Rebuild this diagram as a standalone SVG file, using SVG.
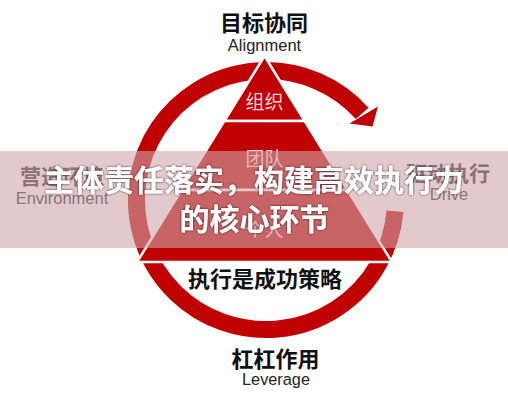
<svg xmlns="http://www.w3.org/2000/svg" width="508" height="400" viewBox="0 0 508 400">
  <defs>
    <style>
      .cjk { font-family: "Noto Sans CJK SC", "Noto Sans", sans-serif; }
      .lat { font-family: "Liberation Sans", Arial, sans-serif; }
      .title { font-weight: 700; fill: #111111; font-size: 22px; text-anchor: middle; }
      .sub { fill: #222222; text-anchor: middle; }
      .side { font-weight: 700; fill: #262626; font-size: 21px; text-anchor: middle; }
      .sideen { fill: #262626; font-size: 16.5px; text-anchor: middle; }
      .layer { fill: #c00000; stroke: #ffffff; stroke-width: 2.5; stroke-linejoin: miter; }
      .ltext { fill: #f7d6d6; font-size: 19px; text-anchor: middle; }
      .main { font-weight: 700; fill: #ffffff; font-size: 30px; text-anchor: middle; filter: url(#halo); }
    </style>
    <filter id="halo" x="-10%" y="-40%" width="120%" height="180%">
      <feDropShadow dx="0" dy="0" stdDeviation="1.2" flood-color="#1a0a0a" flood-opacity="0.85"/>
    </filter>
  </defs>

  <rect width="508" height="400" fill="#ffffff"/>

  <g id="connectors">
    <g id="cycle-arrow">
      <path d="M395,211.3 A129.5,129.5 0 1 1 362.2,113.4" fill="none" stroke="#c00000" stroke-width="17"/>
      <polygon points="378,106.5 349.5,123.5 372.5,126.5" fill="#c00000"/>
    </g>
  </g>

  <g id="pyramid">
    <g id="layer-organization">
      <polygon class="layer" points="264.5,56 224.3,121 304.7,121"/>
      <text class="cjk ltext" x="264.5" y="109">组织</text>
    </g>
    <g id="layer-team">
      <polygon class="layer" points="224.3,121 304.7,121 347.4,190 181.6,190"/>
      <text class="cjk ltext" x="264.5" y="166" font-size="18">团队</text>
    </g>
    <g id="layer-individual">
      <polygon class="layer" points="181.6,190 347.4,190 392,262 137,262"/>
      <text class="cjk ltext" x="264.5" y="237" font-size="18">个人</text>
    </g>
  </g>

  <g id="node-alignment">
    <text class="cjk title" x="264" y="30.5">目标协同</text>
    <text class="lat sub" x="264.5" y="51" font-size="16.5">Alignment</text>
  </g>

  <g id="node-environment">
    <text class="cjk side" x="62" y="184">营造环境</text>
    <text class="lat sideen" x="62" y="204">Environment</text>
  </g>

  <g id="node-drive">
    <text class="cjk side" x="448" y="181">驱动执行</text>
    <text class="lat sideen" x="449" y="200">Drive</text>
  </g>

  <g id="node-strategy">
    <text class="cjk title" x="265" y="286.5">执行是成功策略</text>
  </g>

  <g id="node-leverage">
    <text class="cjk title" x="275.5" y="366.5" font-size="23">杠杠作用</text>
    <text class="lat sub" x="276" y="385" font-size="16.3">Leverage</text>
  </g>

  <g id="banner">
    <rect x="0" y="151" width="508" height="97" fill="rgb(205,165,170)" fill-opacity="0.6"/>
    <text class="cjk main" x="254" y="191">主体责任落实，构建高效执行力</text>
    <text class="cjk main" x="254.5" y="230">的核心环节</text>
  </g>
</svg>
